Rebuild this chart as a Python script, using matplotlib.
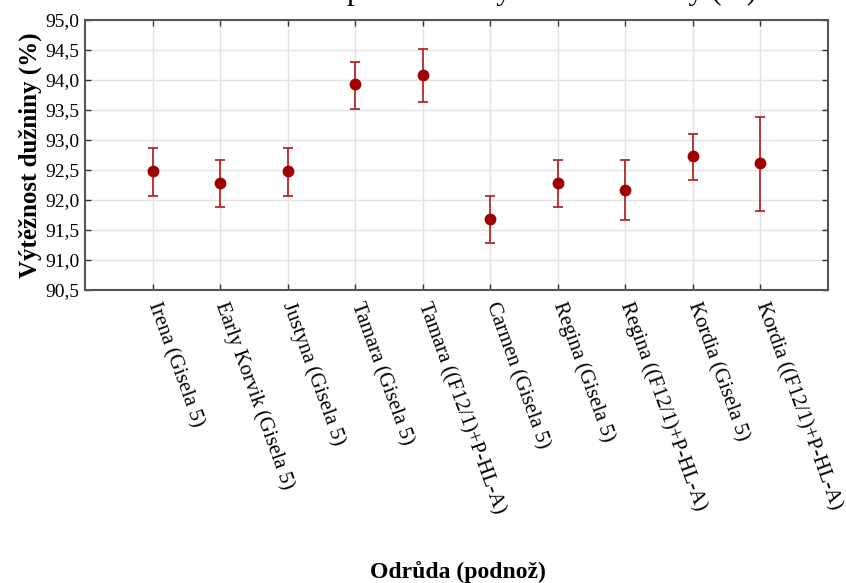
import matplotlib
matplotlib.use("Agg")
import matplotlib.pyplot as plt
import numpy as np

categories = ["Irena (Gisela 5)", "Early Korvik (Gisela 5)", "Justyna (Gisela 5)",
              "Tamara (Gisela 5)", "Tamara ((F12/1)+P-HL-A)", "Carmen (Gisela 5)",
              "Regina (Gisela 5)", "Regina ((F12/1)+P-HL-A)", "Kordia (Gisela 5)",
              "Kordia ((F12/1)+P-HL-A)"]
means = [92.48, 92.29, 92.48, 93.93, 94.08, 91.68, 92.29, 92.17, 92.73, 92.61]
lower = [92.07, 91.88, 92.07, 93.51, 93.63, 91.29, 91.89, 91.67, 92.33, 91.82]
upper = [92.86, 92.66, 92.86, 94.30, 94.52, 92.07, 92.67, 92.66, 93.10, 93.38]
yticks = [90.5, 91.0, 91.5, 92.0, 92.5, 93.0, 93.5, 94.0, 94.5, 95.0]
ytick_labels = ["90,5", "91,0", "91,5", "92,0", "92,5", "93,0", "93,5", "94,0", "94,5", "95,0"]

plt.rcParams['font.family'] = ['Liberation Serif', 'DejaVu Serif']

fig = plt.figure(figsize=(8.46, 5.83), dpi=100)
ax = fig.add_axes([85/846, 1-290/583, (828-85)/846, (290-20)/583])

x = np.arange(1, len(categories)+1)
m = np.array(means)
yerr = np.vstack([m - np.array(lower), np.array(upper) - m])
ax.errorbar(x, m, yerr=yerr, fmt='none', ecolor='#b52a2a', elinewidth=1.3,
            capsize=3.5, capthick=1.3, zorder=3)
ax.plot(x, m, 'o', color='#a00000', markersize=7.5, zorder=4)

ax.set_xlim(0, len(categories)+1)
ax.set_ylim(90.5, 95.0)
ax.set_yticks(yticks)
ax.set_yticklabels(ytick_labels, fontsize=14)
ax.set_xticks(x)
ax.set_xticklabels(categories, fontsize=15, rotation=-70, ha='left', va='center',
                   rotation_mode='anchor')
ax.tick_params(axis='both', direction='in', length=4, width=1, color='#333333',
               top=True, right=True, pad=4)
ax.tick_params(axis='x', pad=9)
ax.grid(True, color='#e3e3e3', linewidth=1)
ax.set_axisbelow(True)
for s in ax.spines.values():
    s.set_color('#555555')
    s.set_linewidth(1.5)

ax.set_ylabel("Výtěžnost dužniny (%)", fontsize=18, fontweight='bold', labelpad=2)
fig.text(458/846, 1-572/583, "Odrůda (podnož)", fontsize=17, fontweight='bold',
         ha='center', va='center')
fig.text(757/846, 1+1/583, "Interakce odrůda*podnož na výtěžnost dužniny (%)",
         fontsize=22, ha='right', va='baseline')

fig.savefig("out.png", dpi=100)
